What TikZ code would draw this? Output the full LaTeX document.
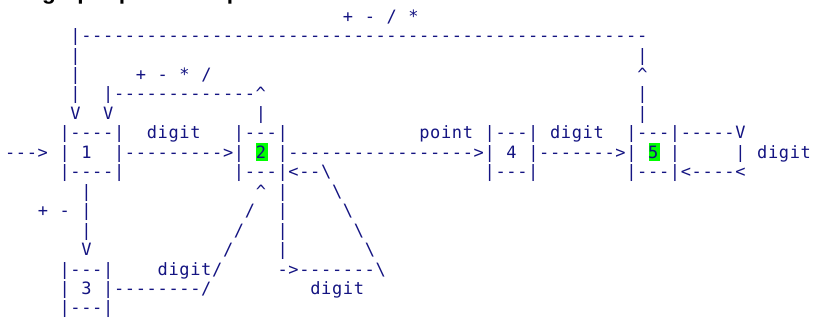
\documentclass[tikz,border=0pt]{standalone}
\usepackage{fontspec}
\setmonofont{DejaVu Sans Mono}[LetterSpace=3.9]
\newfontfamily\headfont{Liberation Sans}
\definecolor{asciiblue}{RGB}{20,20,130}
\definecolor{hlgreen}{RGB}{0,255,0}
\tikzset{
  asc/.style={anchor=base west, inner sep=0pt, outer sep=0pt, text=asciiblue,
    font=\ttfamily\fontsize{17}{19}\selectfont},
  hl/.style={fill=hlgreen, draw=none},
  head/.style={anchor=base west, inner sep=0pt, text=black,
    font=\headfont\bfseries\fontsize{22.6}{24}\selectfont}
}
% column #1, row #2, text #3
\newcommand\at[3]{\node[asc] (c#1r#2) at ({5.05+10.9*#1},{158.3+19.45*(#2-7)}) {#3};}
\begin{document}
\begin{tikzpicture}[x=1pt,y=-1pt]
\useasboundingbox (0,0) rectangle (813,320);
\clip (0,0) rectangle (813,320);
\fill[white] (0,0) rectangle (813,320);
% cut-off heading (only descenders visible)
\node[head] (title) at (42,-0.4) {graphique correspondant};
% highlights
\path[hl] ({5.05+10.9*23+0.6},143) rectangle ({5.05+10.9*23+12.2},160.7);
\path[hl] ({5.05+10.9*59+0.6},143) rectangle ({5.05+10.9*59+12.2},160.7);
% row 0
\at{31}{0}{+}\at{33}{0}{-}\at{35}{0}{/}\at{37}{0}{*}
% row 1
\at{6}{1}{|----------------------------------------------------}
% row 2
\at{6}{2}{|}\at{58}{2}{|}
% row 3
\at{6}{3}{|}\at{12}{3}{+}\at{14}{3}{-}\at{16}{3}{*}\at{18}{3}{/}\at{58}{3}{\textasciicircum}
% row 4
\at{6}{4}{|}\at{9}{4}{|-------------\textasciicircum}\at{58}{4}{|}
% row 5
\at{6}{5}{V}\at{9}{5}{V}\at{23}{5}{|}\at{58}{5}{|}
% row 6
\at{5}{6}{|----|}\at{13}{6}{digit}\at{21}{6}{|---|}\at{38}{6}{point}
\at{44}{6}{|---|}\at{50}{6}{digit}\at{57}{6}{|---|-----V}
% row 7
\at{0}{7}{--->}\at{5}{7}{|}\at{7}{7}{1}\at{10}{7}{|--------->|}\at{23}{7}{2}
\at{25}{7}{|----------------->|}\at{46}{7}{4}\at{48}{7}{|------->|}
\at{59}{7}{5}\at{61}{7}{|}\at{67}{7}{|}\at{69}{7}{digit}
% row 8
\at{5}{8}{|----|}\at{21}{8}{|---|<--\textbackslash}\at{44}{8}{|---|}\at{57}{8}{|---|<----<}
% row 9
\at{7}{9}{|}\at{23}{9}{\textasciicircum}\at{25}{9}{|}\at{30}{9}{\textbackslash}
% row 10
\at{3}{10}{+}\at{5}{10}{-}\at{7}{10}{|}\at{22}{10}{/}\at{25}{10}{|}\at{31}{10}{\textbackslash}
% row 11
\at{7}{11}{|}\at{21}{11}{/}\at{25}{11}{|}\at{32}{11}{\textbackslash}
% row 12
\at{7}{12}{V}\at{20}{12}{/}\at{25}{12}{|}\at{33}{12}{\textbackslash}
% row 13
\at{5}{13}{|---|}\at{14}{13}{digit/}\at{25}{13}{->-------\textbackslash}
% row 14
\at{5}{14}{|}\at{7}{14}{3}\at{9}{14}{|--------/}\at{28}{14}{digit}
% row 15
\at{5}{15}{|---|}
\end{tikzpicture}
\end{document}
